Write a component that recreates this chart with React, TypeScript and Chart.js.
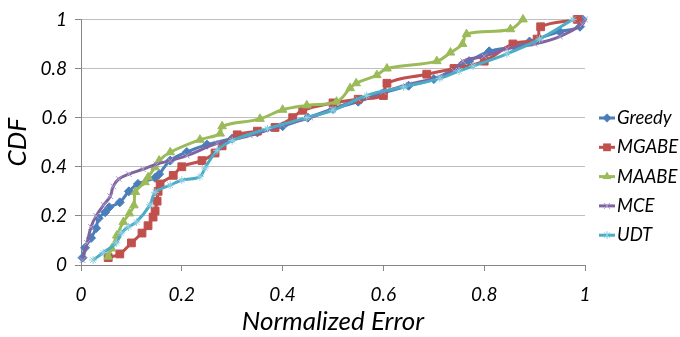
import React, { useEffect, useRef } from 'react';
import { Chart, registerables } from 'chart.js';

Chart.register(...registerables);

const seriesNames = ['Greedy', 'MGABE', 'MAABE', 'MCE', 'UDT'];

const greedyX = [0.003, 0.008, 0.02, 0.03, 0.035, 0.048, 0.056, 0.077, 0.095, 0.113, 0.147, 0.155, 0.177, 0.21, 0.25, 0.3, 0.35, 0.4, 0.45, 0.5, 0.55, 0.6, 0.65, 0.7, 0.742, 0.77, 0.81, 0.86, 0.89, 0.95, 0.99, 0.995];
const greedyY = [0.03, 0.07, 0.11, 0.15, 0.19, 0.215, 0.235, 0.255, 0.3, 0.33, 0.355, 0.37, 0.425, 0.46, 0.49, 0.515, 0.54, 0.565, 0.6, 0.635, 0.665, 0.7, 0.73, 0.757, 0.8, 0.83, 0.87, 0.89, 0.91, 0.95, 0.97, 1.0];

const mgabeX = [0.054, 0.077, 0.1, 0.121, 0.133, 0.143, 0.147, 0.151, 0.153, 0.157, 0.183, 0.2, 0.24, 0.266, 0.28, 0.31, 0.35, 0.385, 0.42, 0.44, 0.5, 0.55, 0.6, 0.607, 0.686, 0.74, 0.8, 0.857, 0.905, 0.912, 0.985];
const mgabeY = [0.03, 0.045, 0.09, 0.13, 0.16, 0.195, 0.22, 0.26, 0.3, 0.33, 0.365, 0.4, 0.425, 0.456, 0.485, 0.53, 0.545, 0.56, 0.6, 0.63, 0.66, 0.675, 0.69, 0.74, 0.777, 0.8, 0.83, 0.9, 0.92, 0.97, 1.0];

const maabeX = [0.054, 0.061, 0.071, 0.084, 0.096, 0.105, 0.108, 0.127, 0.133, 0.147, 0.155, 0.177, 0.236, 0.276, 0.28, 0.355, 0.4, 0.448, 0.507, 0.534, 0.546, 0.587, 0.607, 0.706, 0.733, 0.757, 0.765, 0.852, 0.877];
const maabeY = [0.034, 0.067, 0.12, 0.175, 0.21, 0.243, 0.297, 0.337, 0.357, 0.398, 0.425, 0.459, 0.51, 0.535, 0.565, 0.595, 0.632, 0.65, 0.665, 0.72, 0.74, 0.773, 0.8, 0.83, 0.865, 0.9, 0.94, 0.96, 1.0];

const mceX = [0.003, 0.012, 0.02, 0.03, 0.045, 0.058, 0.064, 0.075, 0.095, 0.123, 0.15, 0.177, 0.21, 0.27, 0.335, 0.4, 0.455, 0.5, 0.55, 0.6, 0.65, 0.712, 0.74, 0.758, 0.8, 0.845, 0.9, 0.95, 0.995, 1.0];
const mceY = [0.02, 0.09, 0.155, 0.2, 0.245, 0.28, 0.32, 0.35, 0.37, 0.39, 0.41, 0.425, 0.445, 0.495, 0.527, 0.57, 0.6, 0.635, 0.675, 0.705, 0.735, 0.765, 0.79, 0.83, 0.85, 0.88, 0.9, 0.93, 0.98, 1.0];

const udtX = [0.024, 0.044, 0.07, 0.08, 0.094, 0.11, 0.137, 0.147, 0.177, 0.2, 0.236, 0.246, 0.27, 0.3, 0.37, 0.448, 0.5, 0.567, 0.64, 0.712, 0.75, 0.778, 0.845, 0.91, 0.976];
const udtY = [0.02, 0.05, 0.09, 0.13, 0.155, 0.175, 0.245, 0.296, 0.325, 0.345, 0.36, 0.395, 0.466, 0.506, 0.555, 0.6, 0.63, 0.69, 0.725, 0.76, 0.79, 0.81, 0.86, 0.92, 1.0];

const xTickValues = [0, 0.2, 0.4, 0.6, 0.8, 1];
const yTickValues = [0, 0.2, 0.4, 0.6, 0.8, 1];

const xTitle = 'Normalized Error';
const yTitle = 'CDF';

const lineColors = ['#4A7EBB', '#C0504D', '#9BBB59', '#8064A2', '#4BACC6'];
const markerColors = ['#4A7EBB', '#C0504D', '#9BBB59', '#A99BC8', '#8FD0E0'];
const markerStyles = ['rectRot', 'rect', 'triangle', 'crossRot', 'star'];
const markerRadii = [4.5, 5.5, 5, 4, 4];

const FONT = "Lato, 'Open Sans', sans-serif";

function toPoints(xs: number[], ys: number[]) {
  return xs.map((x, i) => ({ x, y: ys[i] }));
}

function drawMarker(ctx: CanvasRenderingContext2D, style: string, x: number, y: number, r: number, color: string) {
  ctx.save();
  ctx.fillStyle = color;
  ctx.strokeStyle = color;
  ctx.lineWidth = 1;
  ctx.beginPath();
  if (style === 'rectRot') {
    ctx.moveTo(x, y - r); ctx.lineTo(x + r, y); ctx.lineTo(x, y + r); ctx.lineTo(x - r, y); ctx.closePath(); ctx.fill();
  } else if (style === 'rect') {
    const s = r / Math.SQRT2;
    ctx.rect(x - s, y - s, 2 * s, 2 * s); ctx.fill();
  } else if (style === 'triangle') {
    ctx.moveTo(x, y - r); ctx.lineTo(x + r * 0.87, y + r * 0.5); ctx.lineTo(x - r * 0.87, y + r * 0.5); ctx.closePath(); ctx.fill();
  } else if (style === 'crossRot') {
    const s = r * 0.75;
    ctx.moveTo(x - s, y - s); ctx.lineTo(x + s, y + s); ctx.moveTo(x + s, y - s); ctx.lineTo(x - s, y + s); ctx.stroke();
  } else {
    const s = r * 0.75;
    ctx.moveTo(x - s, y - s); ctx.lineTo(x + s, y + s); ctx.moveTo(x + s, y - s); ctx.lineTo(x - s, y + s);
    ctx.moveTo(x, y - r); ctx.lineTo(x, y + r); ctx.stroke();
  }
  ctx.restore();
}

const legendPlugin = {
  id: 'sideLegend',
  afterDraw(chart: any) {
    const ctx: CanvasRenderingContext2D = chart.ctx;
    ctx.save();
    seriesNames.forEach((name, i) => {
      const y = 118 + i * 29.3;
      ctx.strokeStyle = lineColors[i];
      ctx.lineWidth = 3;
      ctx.beginPath();
      ctx.moveTo(599, y);
      ctx.lineTo(615, y);
      ctx.stroke();
      drawMarker(ctx, markerStyles[i], 607, y, markerRadii[i], markerColors[i]);
      ctx.fillStyle = '#000';
      ctx.font = `italic 18.5px ${FONT}`;
      ctx.textAlign = 'left';
      ctx.textBaseline = 'middle';
      ctx.fillText(name, 617, y);
    });
    ctx.restore();
  },
};

export default function App() {
  const canvasRef = useRef<HTMLCanvasElement | null>(null);

  useEffect(() => {
    document.body.style.margin = '0';
    const canvas = canvasRef.current;
    if (!canvas) return;
    const xs = [greedyX, mgabeX, maabeX, mceX, udtX];
    const ys = [greedyY, mgabeY, maabeY, mceY, udtY];
    const datasets = seriesNames.map((name, i) => ({
      label: name,
      data: toPoints(xs[i], ys[i]),
      borderColor: lineColors[i],
      backgroundColor: markerColors[i],
      pointBackgroundColor: markerColors[i],
      pointBorderColor: markerColors[i],
      pointStyle: markerStyles[i],
      pointRadius: markerRadii[i],
      pointBorderWidth: 1,
      borderWidth: 3,
      tension: 0.4,
      fill: false,
      clip: false as const,
      order: 4 - i,
    }));

    const tickFont = { family: FONT, size: 19, style: 'italic' as const };
    const titleFont = { family: FONT, size: 26, style: 'italic' as const };

    const chart = new Chart(canvas, {
      type: 'line',
      data: { datasets },
      plugins: [legendPlugin],
      options: {
        animation: false,
        responsive: false,
        devicePixelRatio: 1,
        layout: { padding: { top: 18, right: 95, left: 0, bottom: 0 } },
        plugins: {
          legend: { display: false },
          tooltip: { enabled: false },
          title: { display: false },
        },
        scales: {
          x: {
            type: 'linear',
            min: 0,
            max: 1,
            afterBuildTicks: (s: any) => { s.ticks = xTickValues.map((v) => ({ value: v })); },
            grid: { drawOnChartArea: false, drawTicks: true, tickLength: 6, color: '#868686' },
            border: { display: true, color: '#868686', width: 1 },
            ticks: { font: tickFont, color: '#000', padding: 12, maxRotation: 0, autoSkip: false, callback: (v: any) => String(v) },
            title: { display: true, text: xTitle, font: titleFont, color: '#000', padding: { top: 0, bottom: 0 } },
            afterFit: (s: any) => { s.height = 72; },
          },
          y: {
            type: 'linear',
            min: 0,
            max: 1,
            afterBuildTicks: (s: any) => { s.ticks = yTickValues.map((v) => ({ value: v })); },
            grid: { drawOnChartArea: true, drawTicks: true, tickLength: 6, color: '#BFBFBF', tickColor: '#868686' },
            border: { display: true, color: '#868686', width: 1 },
            ticks: { font: tickFont, color: '#000', padding: 8, autoSkip: false, callback: (v: any) => String(v) },
            title: { display: true, text: yTitle, font: titleFont, color: '#000', padding: { top: 2, bottom: 0 } },
            afterFit: (s: any) => { s.width = 81; },
          },
        },
      },
    });
    return () => chart.destroy();
  }, []);

  return (
    <div style={{ width: 680, height: 337, background: '#fff' }}>
      <canvas ref={canvasRef} width={680} height={337} style={{ display: 'block' }} />
    </div>
  );
}
